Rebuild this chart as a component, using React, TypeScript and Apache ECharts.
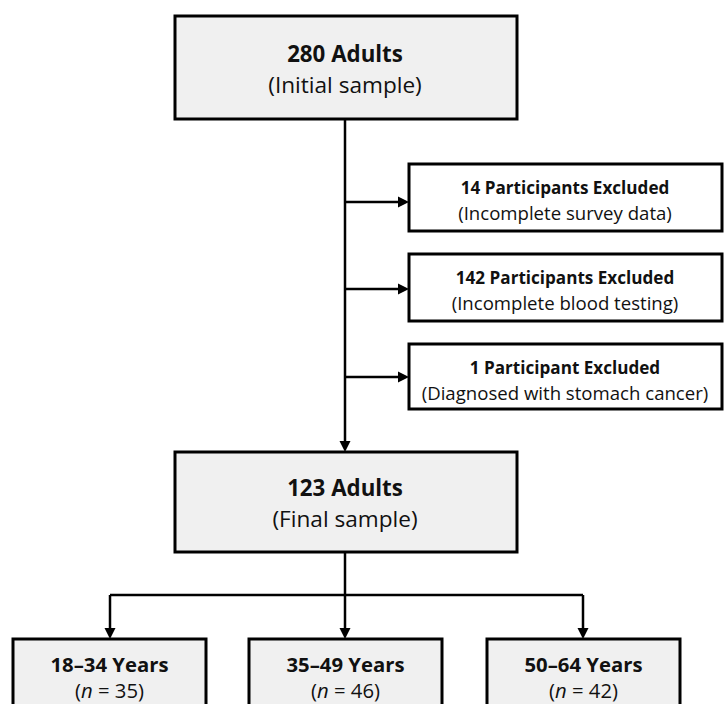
import React, { useEffect, useRef } from "react";
import * as echarts from "echarts";

// ---- data ----
const initialCount = 280;
const initialNote = "Initial sample";
const exclusionCounts = [14, 142, 1];
const exclusionReasons = [
  "Incomplete survey data",
  "Incomplete blood testing",
  "Diagnosed with stomach cancer",
];
const finalCount = 123;
const finalNote = "Final sample";
const ageGroups = ["18–34 Years", "35–49 Years", "50–64 Years"];
const ageCounts = [35, 46, 42];

const FONT = "'Open Sans'";
const INK = "#111111";
const GREY = "#f0f0f0";

function box(x: number, y: number, w: number, h: number, fill: string) {
  return {
    type: "rect",
    shape: { x, y, width: w, height: h },
    style: { fill, stroke: "#000", lineWidth: 3 },
  };
}
function txt(x: number, y: number, text: string, size: number, bold: boolean) {
  return {
    type: "text",
    x,
    y,
    style: {
      text,
      fill: INK,
      font: `${bold ? "bold " : ""}${size}px ${FONT}`,
      textAlign: "center",
      textVerticalAlign: "middle",
    },
  };
}
function richTxt(x: number, y: number, n: number, size: number) {
  return {
    type: "text",
    x,
    y,
    style: {
      text: `{p|(}{i|n}{p| = ${n})}`,
      textAlign: "center",
      textVerticalAlign: "middle",
      rich: {
        p: { fill: INK, fontFamily: "Open Sans", fontSize: size, lineHeight: 22 },
        i: { fill: INK, fontFamily: "Open Sans", fontSize: size, fontStyle: "italic", lineHeight: 22 },
      },
    },
  };
}
function seg(x1: number, y1: number, x2: number, y2: number) {
  return {
    type: "line",
    shape: { x1, y1, x2, y2 },
    style: { stroke: "#000", lineWidth: 2.5 },
  };
}
function arrowDown(x: number, y1: number, y2: number) {
  return [
    seg(x, y1, x, y2 - 10),
    {
      type: "polygon",
      shape: { points: [[x - 5.5, y2 - 11], [x + 5.5, y2 - 11], [x, y2]] },
      style: { fill: "#000" },
    },
  ];
}
function arrowRight(y: number, x1: number, x2: number) {
  return [
    seg(x1, y, x2 - 10, y),
    {
      type: "polygon",
      shape: { points: [[x2 - 11, y - 5.5], [x2 - 11, y + 5.5], [x2, y]] },
      style: { fill: "#000" },
    },
  ];
}

export default function App() {
  const ref = useRef<HTMLDivElement>(null);
  useEffect(() => {
    document.body.style.margin = "0";
    const chart = echarts.init(ref.current!, null, { renderer: "svg" });
    const els: any[] = [];
    const cx = 345;

    // top box
    els.push(box(175, 16, 342, 103, GREY));
    els.push(txt(cx, 53, `${initialCount} Adults`, 22.3, true));
    els.push(txt(cx, 84, `(${initialNote})`, 22.6, false));

    // main vertical arrow
    els.push(...arrowDown(cx, 119, 452));

    // exclusion boxes
    const exTops = [164, 254, 344];
    const exH = [67, 67, 65];
    const arrowYs = [202, 289, 377];
    exclusionCounts.forEach((n, i) => {
      const y = exTops[i];
      els.push(box(409, y, 313, exH[i], "#ffffff"));
      const title = `${n} Participant${n === 1 ? "" : "s"} Excluded`;
      els.push(txt(565, y + 23, title, 17.1, true));
      els.push(txt(565, y + 48, `(${exclusionReasons[i]})`, 18.6, false));
      els.push(...arrowRight(arrowYs[i], cx, 409));
    });

    // final box
    els.push(box(175, 452, 342, 100, GREY));
    els.push(txt(cx, 487, `${finalCount} Adults`, 22.3, true));
    els.push(txt(cx, 518, `(${finalNote})`, 22.6, false));

    // split
    const childX = [110, 345, 583];
    els.push(seg(cx, 552, cx, 595));
    els.push(seg(childX[0], 595, childX[2], 595));
    const boxL = [13, 249, 487];
    ageGroups.forEach((g, i) => {
      els.push(...arrowDown(childX[i], 595, 639));
      els.push(box(boxL[i], 639, 193, 90, GREY));
      const mid = boxL[i] + 96.5;
      els.push(txt(mid, 664, g, 20.3, true));
      els.push(richTxt(mid, 690, ageCounts[i], 20.3));
    });

    chart.setOption({
      animation: false,
      graphic: { elements: els },
    });
    return () => chart.dispose();
  }, []);
  return <div ref={ref} style={{ width: 724, height: 704, background: "#fff" }} />;
}
